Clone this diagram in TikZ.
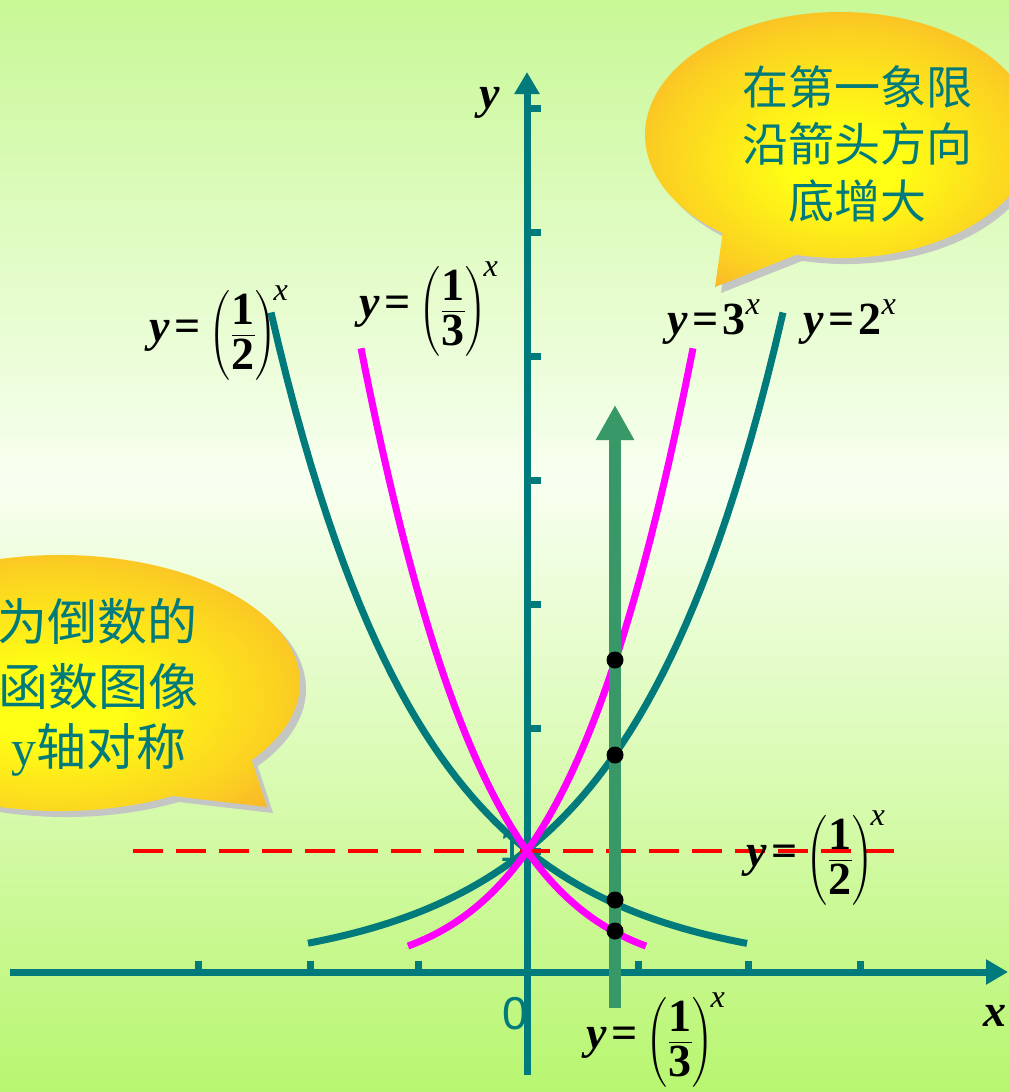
\documentclass[tikz,border=0pt]{standalone}
\usepackage{amsmath}
\usepackage{fontspec}
\setmainfont{Liberation Serif}
\newfontfamily\cjk{Noto Sans CJK SC}
\newfontfamily\lsans{Liberation Sans}
\usetikzlibrary{arrows.meta,calc}
\definecolor{tealc}{RGB}{0,122,122}
\definecolor{magc}{RGB}{255,0,255}
\definecolor{grnc}{RGB}{56,152,104}
\definecolor{bgtop}{RGB}{200,248,150}
\definecolor{bgmid}{RGB}{248,255,240}
\definecolor{bgbot}{RGB}{184,246,112}
\definecolor{cy}{RGB}{255,255,20}
\definecolor{co}{RGB}{247,150,50}
\definecolor{shad}{RGB}{196,198,196}
\pgfdeclareradialshading{callout}{\pgfpoint{0bp}{-4bp}}{color(0bp)=(cy); color(6bp)=(cy); color(22bp)=(cy!55!co); color(36bp)=(co); color(50bp)=(co)}
\newcommand{\yy}{\textbf{\textit{y}}}
\newcommand{\eqq}{\,\textbf{=}\,}
\newcommand{\fraclab}[1]{$\displaystyle \yy\eqq\left(\frac{\textbf{1}}{\textbf{#1}}\right)^{\!\text{\itshape x}}$}
\newcommand{\powlab}[1]{$\yy\eqq\textbf{#1}^{\text{\itshape x}}$}
\tikzset{
  axisline/.style={tealc, line width=7pt},
  tick/.style={tealc, line width=7pt},
  tealcurve/.style={tealc, line width=7pt},
  magcurve/.style={magc, line width=7pt},
  lab/.style={font=\fontsize{46}{50}\selectfont, inner sep=0pt},
  cjktext/.style={font=\cjk\fontsize{46}{57}\selectfont, text=tealc, inner sep=0pt},
  cjkbig/.style={font=\cjk\fontsize{50}{57}\selectfont, text=tealc, inner sep=0pt},
  dot/.style={fill=black}
}
\begin{document}
\begin{tikzpicture}[x=1pt,y=-1pt]
\useasboundingbox (0,0) rectangle (1009,1092);
\clip (0,0) rectangle (1009,1092);
% background
\shade[top color=bgtop, bottom color=bgmid] (0,0) rectangle (1009,480);
\shade[top color=bgmid, bottom color=bgbot] (0,479) rectangle (1009,1092);
% top callout
\fill[shad] (721,293) -- ($(846,141)+(103:195 and 123)$) arc[start angle=103, end angle=-233, x radius=195, y radius=123] -- cycle;
\shade[shading=callout] (715,287) -- ($(840,135)+(103:195 and 123)$) arc[start angle=103, end angle=-233, x radius=195, y radius=123] -- cycle;
\node[cjktext, align=center] (t1) at (857,144) {在第一象限\\沿箭头方向\\底增大};
% left callout
\fill[shad] (273,813) -- ($(66,689)+(62:240 and 128)$) arc[start angle=62, end angle=397, x radius=240, y radius=128] -- cycle;
\shade[shading=callout] (267,807) -- ($(60,683)+(62:240 and 128)$) arc[start angle=62, end angle=397, x radius=240, y radius=128] -- cycle;
\node[cjkbig, anchor=east] (l1) at (198,621) {为倒数的};
\node[cjkbig, anchor=east] (l2) at (199,687) {函数图像};
\node[cjkbig, anchor=east] (l3) at (187,750) {{\rmfamily y}轴对称};
% axes
\coordinate (xs) at (10,972);
\coordinate (xe) at (1008,972);
\coordinate (ys) at (527,1075);
\coordinate (ye) at (527,72);
\draw[axisline, -{Triangle[width=24pt,length=22pt]}] (xs) -- (xe);
\draw[axisline, -{Triangle[width=24pt,length=22pt]}] (ys) -- (ye);
\foreach \t in {198,310,418,638,748,860} \draw[tick] (\t,972) -- (\t,961);
\foreach \t in {108,232,356,480,604,728,851} \draw[tick] (527,\t) -- (541,\t);
\node[font=\lsans\fontsize{44}{48}\selectfont, text=tealc, inner sep=0pt] (one) at (512,846) {1};
\node[font=\lsans\fontsize{46}{50}\selectfont, text=tealc, inner sep=0pt] (zero) at (515,1014) {0};
% teal curves
\draw[tealcurve] plot[domain=308:783, samples=60] (\x, {972-122*exp(0.006587*(\x-527))});
\draw[tealcurve] plot[domain=271:747, samples=60] (\x, {972-122*exp(-0.006587*(\x-527))});
% red dashed y=1
\coordinate (ds) at (133,851);
\coordinate (de) at (905,851);
\draw[red, line width=4.5pt, dash pattern=on 30pt off 13pt] (ds) -- (de);
% magenta curves
\draw[magcurve] plot[domain=408:693, samples=70] (\x, {972-121*exp(1.166*(\x-527)/100-0.1073*((\x-527)/100)*((\x-527)/100))});
\draw[magcurve] plot[domain=361:646, samples=70] (\x, {972-121*exp(-1.166*(\x-527)/100-0.1073*((\x-527)/100)*((\x-527)/100))});
% green arrow
\coordinate (gs) at (615,1008);
\coordinate (ge) at (615,405);
\draw[grnc, line width=12pt, -{Triangle[width=36pt,length=35pt]}] (gs) -- (ge);
% dots
\fill[dot] (615,660) circle (8.5);
\fill[dot] (615,755) circle (8.5);
\fill[dot] (615,900) circle (8.5);
\fill[dot] (615,931) circle (8.5);
% labels
\node[lab] (ylab) at (490,103) {\yy};
\node[lab] (xlab) at (995,1016) {\textbf{\textit{x}}};
\node[lab] (f1) at (219,333) {\fraclab{2}};
\node[lab] (f2) at (429,309) {\fraclab{3}};
\node[lab] (f3) at (714,322) {\powlab{3}};
\node[lab] (f4) at (850,322) {\powlab{2}};
\node[lab] (f5) at (816,858) {\fraclab{2}};
\node[lab] (f6) at (656,1040) {\fraclab{3}};
\end{tikzpicture}
\end{document}
